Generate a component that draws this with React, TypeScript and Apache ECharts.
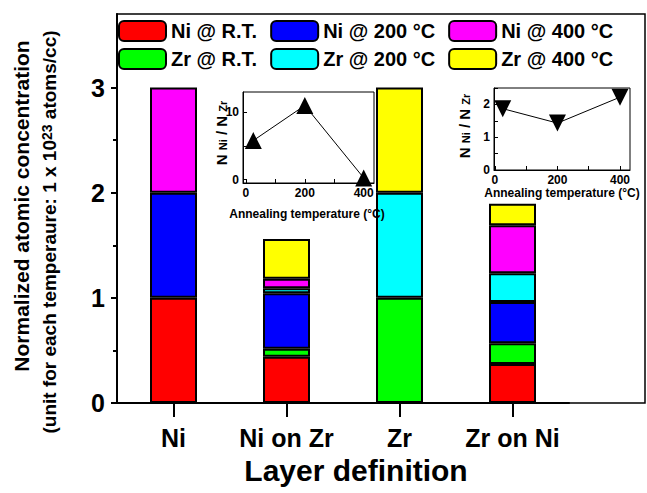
import React, { useEffect, useRef } from "react";
import * as echarts from "echarts";

const categories = ["Ni", "Ni on Zr", "Zr", "Zr on Ni"];
const niRT = [1, 0.44, null, 0.37];
const zrRT = [null, 0.076, 1, 0.198];
const ni200 = [1, 0.527, null, 0.393];
const zr200 = [null, 0.048, 1, 0.273];
const ni400 = [1, 0.092, null, 0.457];
const zr400 = [null, 0.378, 1, 0.203];

const seriesNames = ["Ni @ R.T.", "Zr @ R.T.", "Ni @ 200 \u00B0C", "Zr @ 200 \u00B0C", "Ni @ 400 \u00B0C", "Zr @ 400 \u00B0C"];
const seriesColors = ["#ff0000", "#00ff00", "#0000ff", "#00ffff", "#ff00ff", "#ffff00"];
const seriesValues = [niRT, zrRT, ni200, zr200, ni400, zr400];

const annealT = [25, 200, 400];
const ratioNiOnZr = [5.8, 11.0, 0.25];
const ratioZrOnNi = [1.87, 1.43, 2.22];

const mainYLabels = [0, 1, 2, 3];
const mainYMinorTicks = [0.5, 1.5, 2.5];
const inset1XLabels = [0, 200, 400];
const inset1XTicks = [0, 100, 200, 300, 400];
const inset1YLabels = [0, 10];
const inset1YTicks = [0, 5, 10];
const inset2YLabels = [0, 1, 2];
const inset2YTicks = [0, 0.5, 1, 1.5, 2, 2.5];

const FONT = "'Liberation Sans', Arial, sans-serif";

export default function App() {
  const ref = useRef<HTMLDivElement>(null);
  useEffect(() => {
    if (!ref.current) return;
    const chart = echarts.init(ref.current, null, { renderer: "svg" });
    const bold = (size: number) => ({ fontFamily: FONT, fontWeight: "bold" as const, fontSize: size, color: "#000" });

    const barSeries = seriesValues.map((vals, i) => ({
      name: seriesNames[i],
      type: "bar",
      stack: "total",
      xAxisIndex: 0,
      yAxisIndex: 0,
      barWidth: 47,
      itemStyle: { color: seriesColors[i], borderColor: "#000", borderWidth: 2 },
      data: vals.map((v) => (v === null ? "-" : v)),
      z: 2,
    }));

    const insetAxisX = (gridIndex: number, min: number, max: number) => ({
      type: "value",
      gridIndex,
      min,
      max,
      z: 12,
      axisLine: { show: true, onZero: false, lineStyle: { color: "#000", width: 1 } },
      axisTick: { show: true, inside: true, length: 4, customValues: inset1XTicks, lineStyle: { color: "#000", width: 1 } },
      axisLabel: { show: true, customValues: inset1XLabels, margin: 4, ...bold(12) },
      splitLine: { show: false },
    });

    const insetYTitle = (x: number, y: number) => ({
      type: "text", x, y, rotation: Math.PI / 2, z: 100,
      style: {
        text: "N {sub|Ni} / N {sub|Zr}", font: `bold 15px ${FONT}`, fill: "#000", align: "center", verticalAlign: "middle",
        rich: { sub: { fontSize: 11, fontWeight: "bold", fontFamily: FONT, verticalAlign: "bottom", fill: "#000" } },
      },
    });

    const option: any = {
      animation: false,
      backgroundColor: "#fff",
      grid: [
        { left: 117, top: 14, width: 452, height: 389, show: false },
        { left: 243, top: 92, width: 131, height: 91, show: true, borderColor: "#000", borderWidth: 1, backgroundColor: "#fff", z: 10 },
        { left: 494, top: 88, width: 136, height: 82, show: true, borderColor: "#000", borderWidth: 1, backgroundColor: "#fff", z: 10 },
      ],
      legend: [
        {
          left: 118, top: 20, orient: "horizontal", itemWidth: 47, itemHeight: 20, itemGap: 13,
          selectedMode: false, padding: 0,
          data: [seriesNames[0], seriesNames[2], seriesNames[4]],
          textStyle: bold(20),
        },
        {
          left: 118, top: 48, orient: "horizontal", itemWidth: 47, itemHeight: 20, itemGap: 13,
          selectedMode: false, padding: 0,
          data: [seriesNames[1], seriesNames[3], seriesNames[5]],
          textStyle: bold(20),
        },
      ],
      xAxis: [
        {
          type: "category", gridIndex: 0, data: categories, boundaryGap: true,
          axisLine: { show: true, lineStyle: { color: "#000", width: 2 } },
          axisTick: { show: true, length: 14, alignWithLabel: true, interval: 0, lineStyle: { color: "#000", width: 2 } },
          axisLabel: { show: true, interval: 0, margin: 22, ...bold(25) },
          splitLine: { show: false },
        },
        {
          type: "category", gridIndex: 0, data: categories, boundaryGap: true, position: "bottom",
          axisLine: { show: false },
          axisTick: { show: true, inside: true, length: 14, alignWithLabel: true, interval: 0, lineStyle: { color: "#000", width: 2 } },
          axisLabel: { show: false },
          splitLine: { show: false },
        },
        insetAxisX(1, -10, 435),
        insetAxisX(2, -3, 432),
      ],
      yAxis: [
        {
          type: "value", gridIndex: 0, min: 0, max: 3.7, position: "left",
          axisLine: { show: true, lineStyle: { color: "#000", width: 2 } },
          axisTick: { show: true, length: 6, customValues: mainYLabels, lineStyle: { color: "#000", width: 2 } },
          axisLabel: { show: true, customValues: mainYLabels, margin: 12, ...bold(25) },
          splitLine: { show: false },
        },
        {
          type: "value", gridIndex: 1, min: -0.5, max: 13, z: 12,
          axisLine: { show: true, onZero: false, lineStyle: { color: "#000", width: 1 } },
          axisTick: { show: true, inside: true, length: 4, customValues: inset1YTicks, lineStyle: { color: "#000", width: 1 } },
          axisLabel: { show: true, customValues: inset1YLabels, margin: 4, ...bold(12) },
          splitLine: { show: false },
        },
        {
          type: "value", gridIndex: 2, min: 0, max: 2.5, z: 12,
          axisLine: { show: true, onZero: false, lineStyle: { color: "#000", width: 1 } },
          axisTick: { show: true, inside: true, length: 4, customValues: inset2YTicks, lineStyle: { color: "#000", width: 1 } },
          axisLabel: { show: true, customValues: inset2YLabels, margin: 4, ...bold(12) },
          splitLine: { show: false },
        },
        {
          type: "value", gridIndex: 0, min: 0, max: 3.7, position: "left", offset: 0,
          axisLine: { show: false },
          axisTick: { show: true, length: 4, customValues: mainYMinorTicks, lineStyle: { color: "#000", width: 2 } },
          axisLabel: { show: false },
          splitLine: { show: false },
        },
      ],
      series: [
        ...barSeries,
        {
          type: "line", xAxisIndex: 2, yAxisIndex: 1,
          data: annealT.map((t, i) => [t, ratioNiOnZr[i]]),
          symbol: "triangle", symbolSize: 17,
          itemStyle: { color: "#000" },
          lineStyle: { color: "#000", width: 1 },
          z: 14,
        },
        {
          type: "line", xAxisIndex: 3, yAxisIndex: 2,
          data: annealT.map((t, i) => [t, ratioZrOnNi[i]]),
          symbol: "triangle", symbolSize: 17, symbolRotate: 180,
          itemStyle: { color: "#000" },
          lineStyle: { color: "#000", width: 1 },
          z: 14,
        },
      ],
      graphic: [
        {
          type: "rect", z: -1, silent: true,
          shape: { x: 117, y: 14, width: 528, height: 389 },
          style: { fill: "none", stroke: "#000", lineWidth: 1.5 },
        },
        {
          type: "text", x: 21, y: 206, rotation: Math.PI / 2, z: 100,
          style: { text: "Normalized atomic concentration", font: `bold 21px ${FONT}`, fill: "#000", align: "center", verticalAlign: "middle" },
        },
        {
          type: "text", x: 49, y: 232, rotation: Math.PI / 2, z: 100,
          style: {
            text: "(unit for each temperaure: 1 x 10{sup|23} atoms/cc)",
            font: `bold 19px ${FONT}`, fill: "#000", align: "center", verticalAlign: "middle",
            rich: { sup: { fontSize: 14, fontWeight: "bold", fontFamily: FONT, verticalAlign: "top", fill: "#000" } },
          },
        },
        {
          type: "text", x: 356, y: 470, z: 100,
          style: { text: "Layer definition", font: `bold 30px ${FONT}`, fill: "#000", align: "center", verticalAlign: "middle" },
        },
        insetYTitle(221, 133),
        {
          type: "text", x: 307, y: 214, z: 100,
          style: { text: "Annealing temperature (\u00B0C)", font: `bold 12px ${FONT}`, fill: "#000", align: "center", verticalAlign: "middle" },
        },
        insetYTitle(464, 126),
        {
          type: "text", x: 562, y: 193, z: 100,
          style: { text: "Annealing temperature (\u00B0C)", font: `bold 12px ${FONT}`, fill: "#000", align: "center", verticalAlign: "middle" },
        },
      ],
    };
    chart.setOption(option);
    return () => chart.dispose();
  }, []);
  return <div ref={ref} style={{ width: 647, height: 493, position: "absolute", left: 0, top: 0 }} />;
}
